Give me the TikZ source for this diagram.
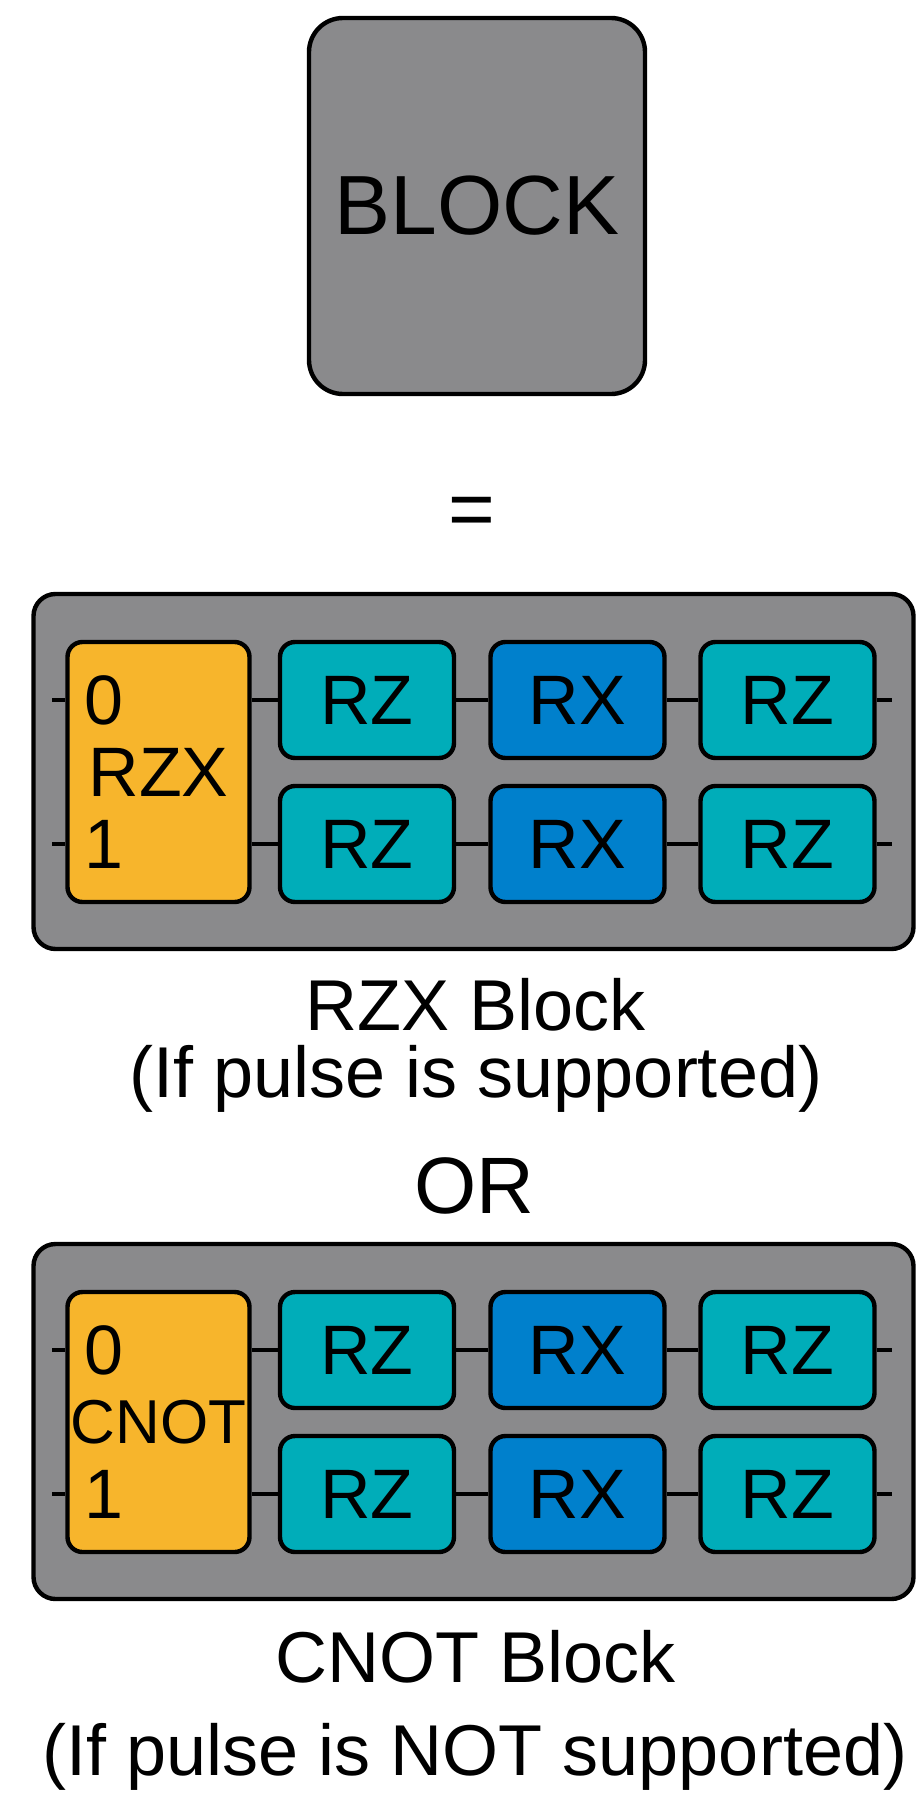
\documentclass[tikz,border=0pt]{standalone}
\usepackage{fontspec}
\setmainfont{Liberation Sans}
\definecolor{blockgray}{RGB}{138,138,140}
\definecolor{gateorange}{RGB}{247,181,44}
\definecolor{gateteal}{RGB}{0,173,185}
\definecolor{gateblue}{RGB}{0,128,204}
\tikzset{
  gate/.style={draw=black, line width=2.2pt, rounded corners=7.5pt, inner sep=0pt,
    minimum width=87pt, minimum height=58pt, font=\fontsize{35}{40}\selectfont},
  rzgate/.style={gate, fill=gateteal},
  rxgate/.style={gate, fill=gateblue},
  twoq/.style={gate, fill=gateorange, minimum width=91pt, minimum height=130pt},
  qlabel/.style={anchor=west, inner sep=0pt, font=\fontsize{35}{40}\selectfont},
  frame/.style={draw=black, fill=blockgray, line width=2.2pt, rounded corners=11pt,
    minimum width=440pt, minimum height=177.5pt, inner sep=0pt},
  wire/.style={line width=1.8pt},
  caption/.style={anchor=base, inner sep=0pt, font=\fontsize{36}{42}\selectfont}
}
\begin{document}
\begin{tikzpicture}[x=0.5pt,y=-0.5pt]
    \useasboundingbox (0,0) rectangle (923,1793);
    % Khối tổng quát
    \node[frame, rounded corners=17pt, minimum width=168pt, minimum height=188pt,
      font=\fontsize{42}{48}\selectfont] (blk) at (477,206) {BLOCK};
    \node[caption, font=\fontsize{40}{46}\selectfont] (eq) at (472,536) {=};

    % Hai khối: RZX và CNOT
    \foreach \oy/\b/\gname/\gsize in {0/a/RZX/35, 650/b/CNOT/31} {
    \node[frame] (fr\b) at (473.5,771.5+\oy) {};
    % cổng hai qubit
    \node[twoq, font=\fontsize{\gsize}{\gsize}\selectfont] (tq\b) at (158.5,772+\oy) {\gname};
    \node[qlabel] (z\b) at (84,700+\oy) {0};
    \node[qlabel] (o\b) at (84,844+\oy) {1};
    % cổng một qubit
    \foreach \x/\c/\t [count=\i] in {367/rzgate/RZ, 577.5/rxgate/RX, 787.5/rzgate/RZ} {
      \node[\c] (u\b\i) at (\x,700+\oy) {\t};
      \node[\c] (d\b\i) at (\x,844+\oy) {\t};
    }
    % dây
    \coordinate (inu\b) at (52,700+\oy);
    \coordinate (ind\b) at (52,844+\oy);
    \coordinate (outu\b) at (892,700+\oy);
    \coordinate (outd\b) at (892,844+\oy);
    \draw[wire] (inu\b) -- (tq\b.west |- inu\b);
    \draw[wire] (ind\b) -- (tq\b.west |- ind\b);
    \draw[wire] (tq\b.east |- u\b1) -- (u\b1) -- (u\b2) -- (u\b3) -- (outu\b);
    \draw[wire] (tq\b.east |- d\b1) -- (d\b1) -- (d\b2) -- (d\b3) -- (outd\b);
    }

    % Chú thích
    \node[caption] (capa) at (476,1030) {RZX Block};
    \node[caption] (suba) at (476,1097) {(If pulse is supported)};
    \node[caption, font=\fontsize{40}{46}\selectfont] (or) at (474,1213) {OR};
    \node[caption] (capb) at (476,1682) {CNOT Block};
    \node[caption] (subb) at (475,1775) {(If pulse is NOT supported)};
\end{tikzpicture}
\end{document}
